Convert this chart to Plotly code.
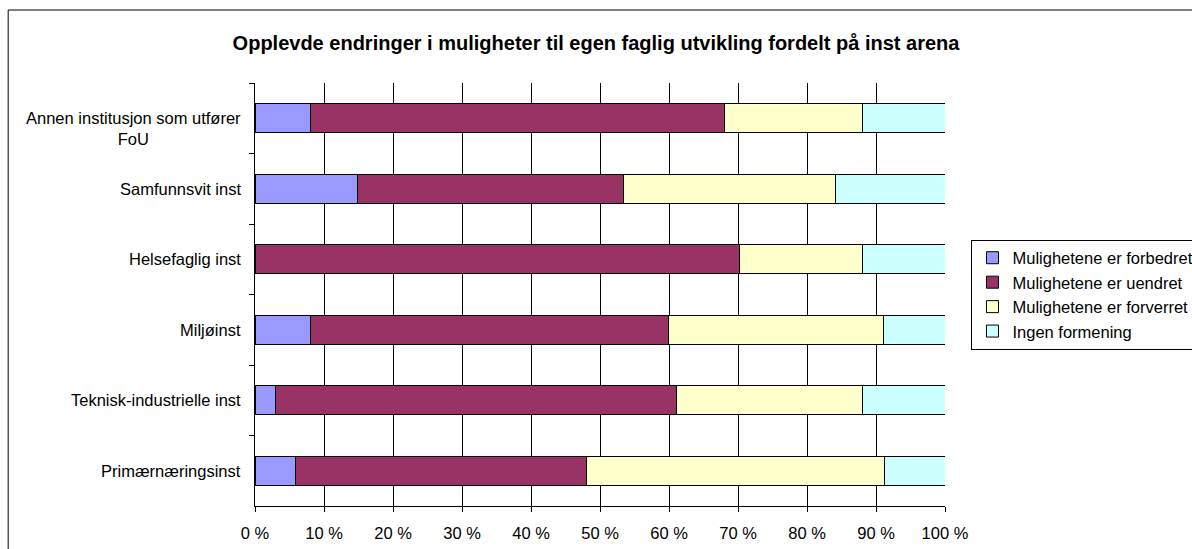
import plotly.graph_objects as go

categories = [
    "Annen institusjon som utfører<br>FoU",
    "Samfunnsvit inst",
    "Helsefaglig inst",
    "Miljøinst",
    "Teknisk-industrielle inst",
    "Primærnæringsinst",
]
forbedret = [8.0, 14.9, 0.0, 8.0, 2.9, 5.9]
uendret = [60.0, 38.5, 70.2, 51.9, 58.2, 42.1]
forverret = [20.1, 30.8, 17.8, 31.2, 26.9, 43.2]
ingen = [11.9, 15.8, 12.0, 8.9, 12.0, 8.8]

series_names = [
    "Mulighetene er forbedret",
    "Mulighetene er uendret",
    "Mulighetene er forverret",
    "Ingen formening",
]
series_values = [forbedret, uendret, forverret, ingen]
colors = ["#9999FF", "#993366", "#FFFFCC", "#CCFFFF"]
xticks = list(range(0, 101, 10))

FONT = "Arial, Liberation Sans, sans-serif"
FS = 16.5

fig = go.Figure()
for name, vals, col in zip(series_names, series_values, colors):
    fig.add_trace(go.Bar(
        y=categories, x=vals, name=name, orientation="h",
        marker=dict(color=col, line=dict(color="black", width=1)),
        hoverinfo="x+name",
    ))

L, R, T, B = 255, 246.5, 83, 43
W, H = 1192, 549
pw, ph = W - L - R, H - T - B

annotations = []
for c in categories:
    annotations.append(dict(
        x=0, xref="paper", y=c, yref="y", xanchor="right", xshift=-12,
        yshift=-10 if "<br>" in c else 0,
        text=c, showarrow=False, align="center",
        font=dict(family=FONT, size=FS, color="black"),
    ))

fig.update_layout(
    width=W, height=H,
    margin=dict(l=L, r=R, t=T, b=B, autoexpand=False),
    paper_bgcolor="white", plot_bgcolor="white",
    barmode="stack", bargap=0.59,
    font=dict(family=FONT, size=FS, color="black"),
    title=dict(
        text="<b>Opplevde endringer i muligheter til egen faglig utvikling fordelt på inst arena</b>",
        x=0.5, xref="container", xanchor="center",
        y=1 - 43 / H, yref="container", yanchor="middle",
        font=dict(family=FONT, size=20, color="black"),
    ),
    xaxis=dict(
        range=[0, 100], tickvals=xticks, ticktext=[f"{v} %" for v in xticks],
        showgrid=True, gridcolor="black", gridwidth=1,
        showline=True, linecolor="black", linewidth=1,
        ticks="outside", ticklen=5, tickcolor="black",
        ticklabelstandoff=7,
        tickfont=dict(family=FONT, size=FS, color="black"),
        zeroline=False, fixedrange=True,
    ),
    yaxis=dict(
        categoryorder="array", categoryarray=categories,
        autorange="reversed",
        showticklabels=False, tickson="boundaries",
        ticks="outside", ticklen=5, tickcolor="black",
        showline=True, linecolor="black", linewidth=1,
        showgrid=False, zeroline=False, fixedrange=True,
    ),
    legend=dict(
        x=(972 - L) / pw, y=0.5, xanchor="left", yanchor="middle",
        bordercolor="black", borderwidth=1, bgcolor="white",
        traceorder="normal",
        font=dict(family=FONT, size=FS, color="black"),
        itemclick=False, itemdoubleclick=False,
    ),
    annotations=annotations,
    shapes=[dict(
        type="rect", xref="paper", yref="paper",
        x0=(8 - L) / pw, x1=(1250 - L) / pw,
        y0=1 - (600 - T) / ph, y1=1 + (T - 10) / ph,
        line=dict(color="black", width=1), fillcolor="rgba(0,0,0,0)",
        layer="below",
    )],
    showlegend=True,
)

fig.write_html(
    "out.html",
    config={"displayModeBar": False},
    post_script="document.body.style.margin='0';document.body.style.overflow='hidden';",
)
